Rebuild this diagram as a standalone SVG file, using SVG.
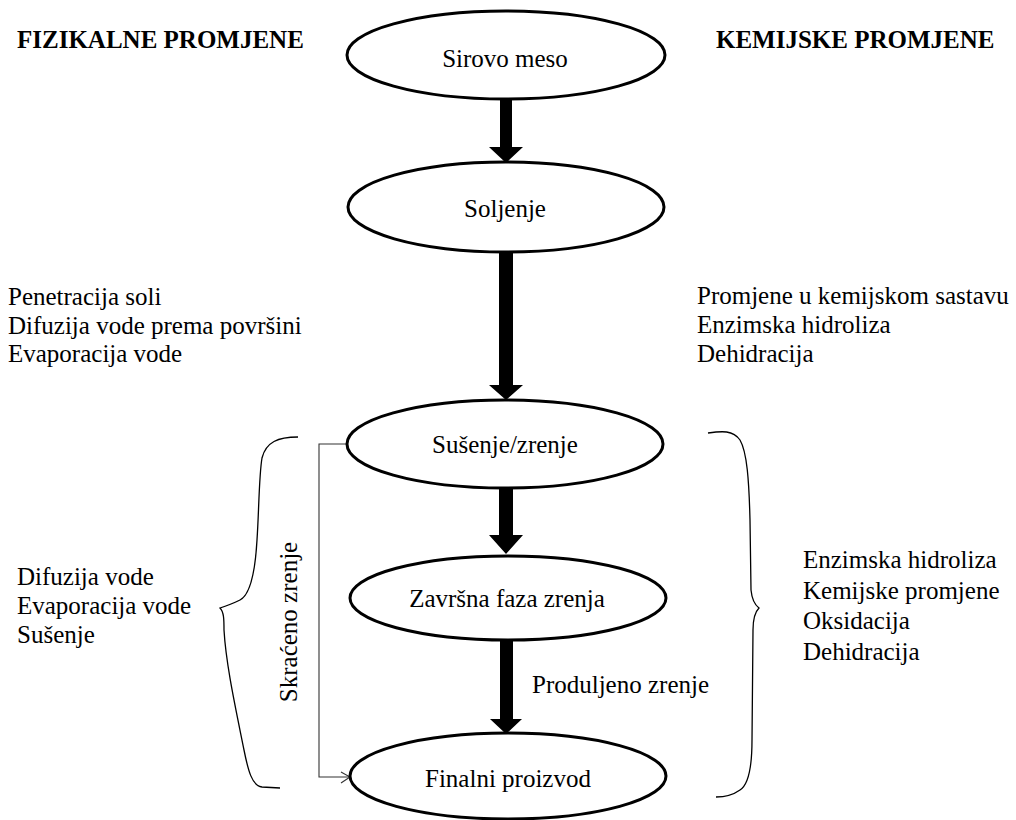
<svg xmlns="http://www.w3.org/2000/svg" width="1016" height="820" viewBox="0 0 1016 820" font-family="'Liberation Serif', Tinos, 'Times New Roman', 'Nimbus Roman', 'DejaVu Serif', serif">
<style>
text{font-family:'Liberation Serif', Tinos, 'Times New Roman', 'Nimbus Roman', 'DejaVu Serif', serif;font-size:25px;fill:#000}
.c{text-anchor:middle}
.h{font-weight:bold}
.n{fill:#fff;stroke:#000;stroke-width:3}
.ar{fill:#000;stroke:none}
.br{fill:none;stroke:#000;stroke-width:1.3}
.thin{fill:none;stroke:#333;stroke-width:1.1}
</style>
<rect width="1016" height="820" fill="#fff"/>
<text class="h" x="17" y="48">FIZIKALNE PROMJENE</text>
<text class="h" x="716" y="48">KEMIJSKE PROMJENE</text>
<g id="connectors">
<polygon class="ar" points="500,100 512,100 512,147 523,147 506,163 489,147 500,147"/>
<polygon class="ar" points="499,251 513,251 513,385 523,385 506,400 489,385 499,385"/>
<polygon class="ar" points="499,487 513,487 513,535 523,535 506,554 489,535 499,535"/>
<polygon class="ar" points="500,639 513,639 513,719 522,719 506,734 490,719 500,719"/>
<polyline class="thin" points="347,444 319,444 319,777 349,777"/>
<polyline class="thin" points="341,772 350,777 341,783"/>
</g>
<g id="n1"><ellipse class="n" cx="506" cy="55" rx="159" ry="44"/><text class="c" x="505" y="67">Sirovo meso</text></g>
<g id="n2"><ellipse class="n" cx="506" cy="207" rx="158" ry="45"/><text class="c" x="505" y="217">Soljenje</text></g>
<g id="n3"><ellipse class="n" cx="505" cy="444" rx="158" ry="44"/><text class="c" x="505" y="453">Sušenje/zrenje</text></g>
<g id="n4"><ellipse class="n" cx="508" cy="598" rx="158" ry="42"/><text class="c" x="507" y="607">Završna faza zrenja</text></g>
<g id="n5"><ellipse class="n" cx="508" cy="776" rx="158" ry="43"/><text class="c" x="508" y="787">Finalni proizvod</text></g>
<g id="left-top"><text x="8" y="305">Penetracija soli</text><text x="8" y="333.5">Difuzija vode prema površini</text><text x="8" y="362">Evaporacija vode</text></g>
<g id="right-top"><text x="697" y="304">Promjene u kemijskom sastavu</text><text x="697" y="333">Enzimska hidroliza</text><text x="697" y="362">Dehidracija</text></g>
<g id="left-bottom"><text x="17" y="585">Difuzija vode</text><text x="17" y="614">Evaporacija vode</text><text x="17" y="643">Sušenje</text></g>
<g id="right-bottom"><text x="803" y="568">Enzimska hidroliza</text><text x="803" y="598.5">Kemijske promjene</text><text x="803" y="629">Oksidacija</text><text x="803" y="659.5">Dehidracija</text></g>
<text x="532" y="693">Produljeno zrenje</text>
<text class="c" transform="translate(297,622) rotate(-90)">Skraćeno zrenje</text>
<path class="br" d="M298,437 C278,437 266,442 262,458 C259,475 259,510 257,540 C255,575 250,595 240,600 C232,604 226,606 220,608 C224,612 224,620 224,630 C226,665 236,710 244,750 C248,770 252,786 262,787 L280,788"/>
<path class="br" d="M708,433 C722,431 733,430 740,440 C747,452 749,480 750,520 L751,590 C752,600 755,605 759,608 C755,612 753,618 753,630 L752,740 C752,770 748,785 740,790 C733,795 725,797 716,797"/>
</svg>
